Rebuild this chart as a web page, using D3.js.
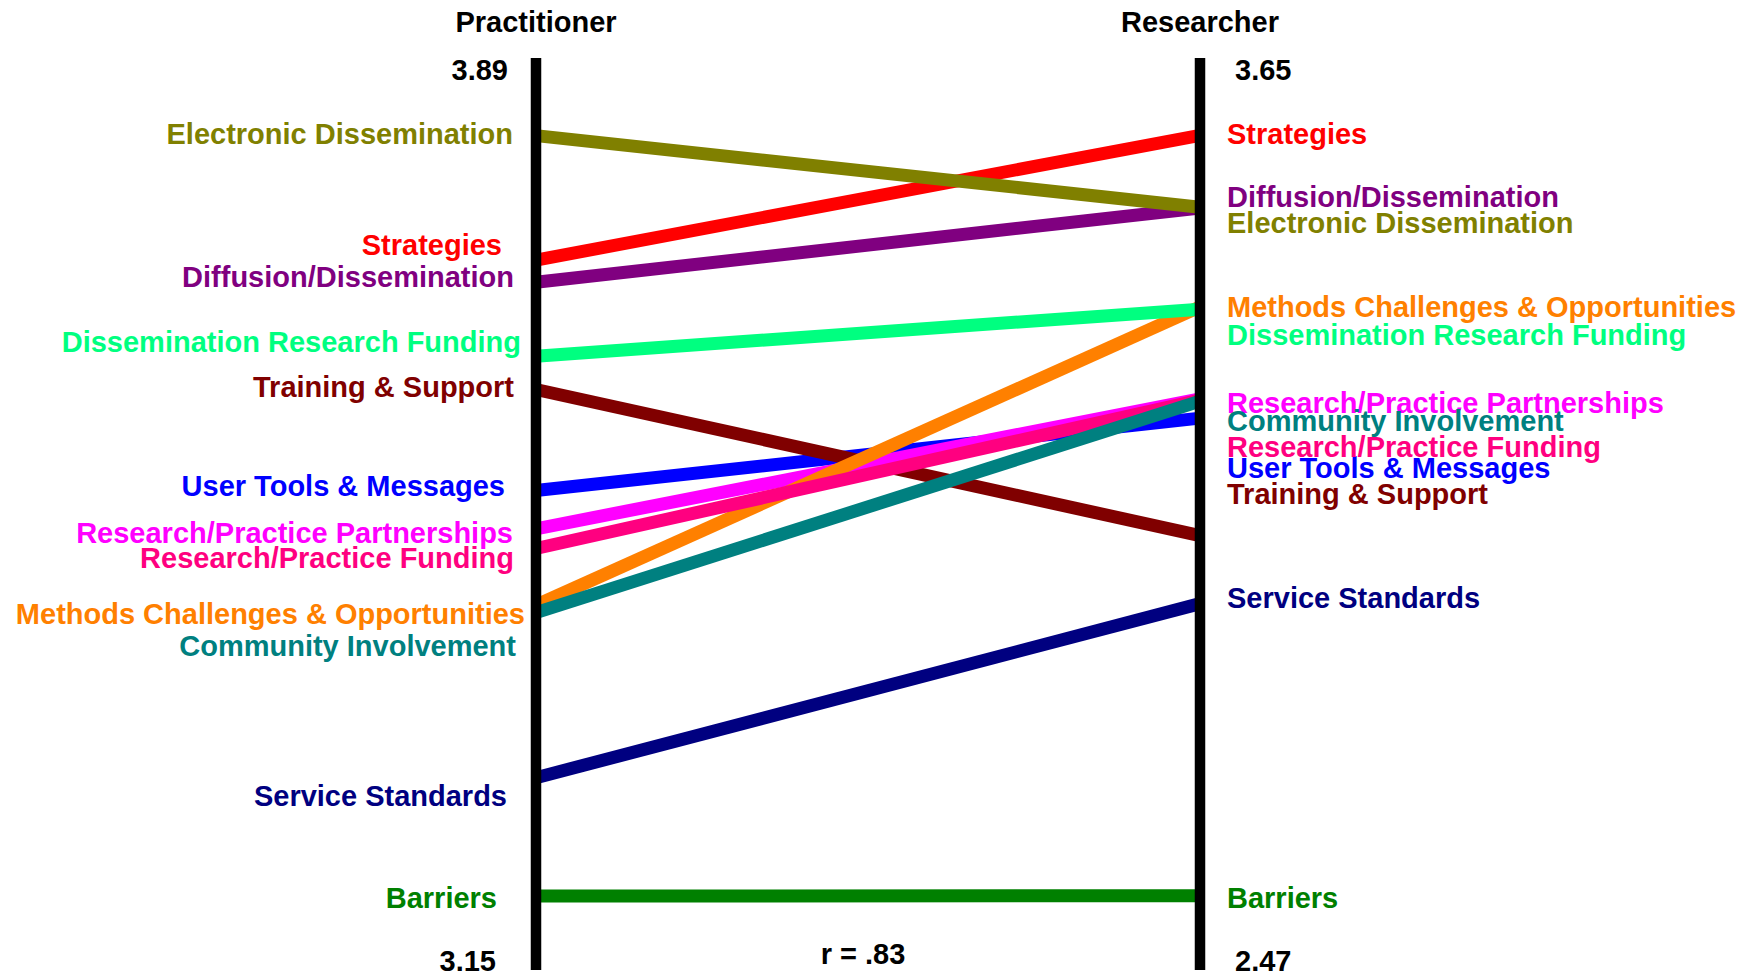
<!DOCTYPE html>
<html>
<head>
<meta charset="utf-8">
<script src="https://cdn.jsdelivr.net/npm/d3@7"></script>
<style>
  html, body { margin: 0; padding: 0; background: #fff; }
  svg text { font-family: "Liberation Sans", Arial, sans-serif; font-weight: bold; }
</style>
</head>
<body>
<svg id="chart" width="1748" height="976"></svg>
<script>
// ---- data ----
const categories = [
  "Electronic Dissemination", "Strategies", "Diffusion/Dissemination",
  "Dissemination Research Funding", "Training & Support", "User Tools & Messages",
  "Research/Practice Partnerships", "Research/Practice Funding",
  "Methods Challenges & Opportunities", "Community Involvement",
  "Service Standards", "Barriers"
];
const practitionerValues = [3.827, 3.726, 3.708, 3.648, 3.621, 3.539, 3.508, 3.492, 3.446, 3.440, 3.306, 3.210];
const researcherValues   = [3.457, 3.550, 3.456, 3.325, 3.032, 3.184, 3.209, 3.2075, 3.328, 3.206, 2.944, 2.566];
const colors = ["#808000", "#ff0000", "#800080", "#00ff80", "#800000", "#0000ff",
                "#ff00ff", "#ff0080", "#ff8000", "#008080", "#000080", "#008000"];
const groupNames = ["Practitioner", "Researcher"];
const practitionerDomain = [3.15, 3.89];
const researcherDomain = [2.47, 3.65];
const tickLabelsLeft = ["3.89", "3.15"];
const tickLabelsRight = ["3.65", "2.47"];
const correlationText = "r = .83";

// ---- layout (label nudges in px, drawing order) ----
const leftLabelDy  = [-2, -15, -5, -14, -3, -5, 4, 9, 9, 33, 18, 2];
const leftLabelDx  = [-1, -12, 0, 7, 0, -9, -1, 0, 11, 2, -7, -17];
const rightLabelDy = [16, -1, -11, 26, -42, 50, 4, 47, 0, 20, -6, 2];
const drawOrder = [11, 10, 1, 2, 0, 5, 4, 6, 8, 7, 9, 3];

const svg = d3.select("#chart");
const xLeft = 536, xRight = 1200;
const yTop = 58, yBottom = 970;
const fontSize = 29;

const yL = d3.scaleLinear().domain(practitionerDomain).range([yBottom, yTop]);
const yR = d3.scaleLinear().domain(researcherDomain).range([yBottom, yTop]);

const rows = categories.map((c, i) => ({
  name: c, p: practitionerValues[i], r: researcherValues[i], color: colors[i], i
}));

// lines
svg.append("g").selectAll("line").data(drawOrder.map(k => rows[k])).join("line")
  .attr("x1", xLeft).attr("x2", xRight)
  .attr("y1", d => yL(d.p)).attr("y2", d => yR(d.r))
  .attr("stroke", d => d.color).attr("stroke-width", 13);

// axes (vertical bars)
[xLeft, xRight].forEach(x => {
  svg.append("line").attr("x1", x).attr("x2", x).attr("y1", yTop).attr("y2", yBottom)
    .attr("stroke", "#000").attr("stroke-width", 10.5);
});

function txt(x, y, anchor, s, color) {
  return svg.append("text").attr("x", x).attr("y", y).attr("text-anchor", anchor)
    .attr("dominant-baseline", "central").attr("font-size", fontSize)
    .attr("fill", color || "#000").text(s);
}

// titles
txt(xLeft, 22, "middle", groupNames[0]);
txt(xRight, 22, "middle", groupNames[1]);

// tick labels (axis extremes)
txt(508, yTop + 12, "end", tickLabelsLeft[0]);
txt(496, yBottom - 9, "end", tickLabelsLeft[1]);
txt(1235, yTop + 12, "start", tickLabelsRight[0]);
txt(1235, yBottom - 9, "start", tickLabelsRight[1]);

// correlation
txt((xLeft + xRight) / 2 - 5, 954, "middle", correlationText);

// left labels
svg.append("g").selectAll("text").data(rows).join("text")
  .attr("x", d => 514 + leftLabelDx[d.i])
  .attr("y", d => yL(d.p) + leftLabelDy[d.i])
  .attr("text-anchor", "end").attr("dominant-baseline", "central")
  .attr("font-size", fontSize).attr("fill", d => d.color).text(d => d.name);

// right labels
svg.append("g").selectAll("text").data(rows).join("text")
  .attr("x", 1227)
  .attr("y", d => yR(d.r) + rightLabelDy[d.i])
  .attr("text-anchor", "start").attr("dominant-baseline", "central")
  .attr("font-size", fontSize).attr("fill", d => d.color).text(d => d.name);
</script>
</body>
</html>
